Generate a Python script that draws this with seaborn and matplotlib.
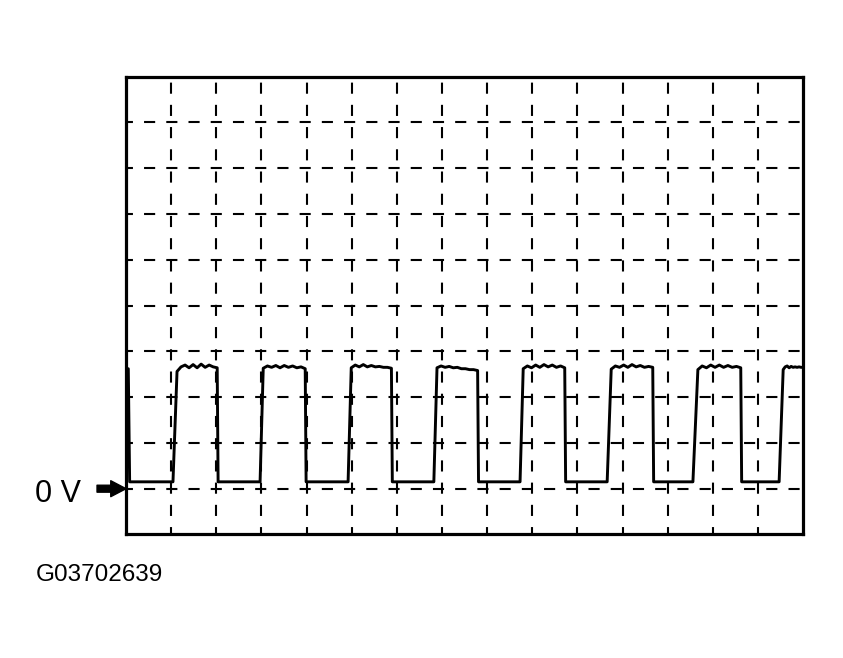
import numpy as np
import pandas as pd
import matplotlib
matplotlib.use("Agg")
import matplotlib.pyplot as plt
import seaborn as sns

# Scope trace in screen divisions (15 x 10 graticule)
# x: divisions from left edge, y: divisions above the 0 V line
low_level = 0.15
rise_start = [1.04, 2.97, 4.92, 6.82, 8.73, 10.66, 12.56, 14.47]
rise_end = [1.13, 3.04, 4.99, 6.89, 8.80, 10.75, 12.67, 14.56]
fall_at = [2.02, 3.97, 5.88, 7.79, 9.72, 11.67, 13.62, 15.00]
# ripple on the top of each pulse (11 samples across the top)
pulse_tops = [
    [2.56, 2.66, 2.70, 2.64, 2.71, 2.64, 2.72, 2.65, 2.70, 2.66, 2.64],
    [2.63, 2.68, 2.65, 2.69, 2.64, 2.69, 2.65, 2.68, 2.64, 2.66, 2.62],
    [2.64, 2.70, 2.66, 2.71, 2.66, 2.69, 2.66, 2.67, 2.65, 2.65, 2.63],
    [2.64, 2.68, 2.65, 2.67, 2.64, 2.65, 2.62, 2.62, 2.60, 2.60, 2.58],
    [2.62, 2.68, 2.64, 2.70, 2.65, 2.71, 2.66, 2.70, 2.65, 2.68, 2.64],
    [2.61, 2.68, 2.65, 2.70, 2.65, 2.71, 2.66, 2.69, 2.65, 2.67, 2.65],
    [2.60, 2.68, 2.64, 2.70, 2.65, 2.70, 2.65, 2.69, 2.65, 2.67, 2.64],
    [2.60, 2.66, 2.68, 2.64, 2.67, 2.65, 2.66, 2.65, 2.66, 2.65, 2.65],
]
start_x = [0.05, 0.08]
start_y = [2.62, low_level]

fig_label = "G03702639"
zero_label = "0 V"

# build the polyline
t = list(start_x)
v = list(start_y)
for rs, re, fa, tops in zip(rise_start, rise_end, fall_at, pulse_tops):
    t += [rs]
    v += [low_level]
    xs = np.linspace(re, fa, len(tops))
    t += list(xs)
    v += tops
    if fa < 15.0:
        t += [fa + 0.02]
        v += [low_level]
trace = pd.DataFrame({"div_x": t, "div_y": v})

sns.set_style("white")
plt.rcParams["font.family"] = ["Liberation Sans", "DejaVu Sans"]
plt.rcParams["lines.scale_dashes"] = False

fig = plt.figure(figsize=(8.43, 6.58), dpi=100)
ax = fig.add_axes([0.1495, 0.1877, 0.8031, 0.696])

sns.lineplot(data=trace, x="div_x", y="div_y", estimator=None, sort=False,
             color="black", linewidth=2.1, ax=ax, zorder=3)

ax.set_xlim(0, 15)
ax.set_ylim(-1, 9)
ax.set_xticks(np.arange(1, 15))
ax.set_yticks(np.arange(0, 9))
ax.tick_params(length=0, labelbottom=False, labelleft=False)
ax.set_xlabel("")
ax.set_ylabel("")
ax.grid(True, color="black", linewidth=1.5, linestyle=(3, (8, 8)))
for s in ax.spines.values():
    s.set_visible(True)
    s.set_color("black")
    s.set_linewidth(2.3)

# 0 V marker arrow
ax.annotate("", xy=(0, 0), xycoords="data", xytext=(-29, 0),
            textcoords="offset pixels", annotation_clip=False,
            arrowprops=dict(arrowstyle="simple,head_length=1.1,head_width=1.15,tail_width=0.5",
                            color="black", shrinkA=0, shrinkB=0, mutation_scale=10))
fig.text(35 / 843, 1 - 494 / 658, zero_label, fontsize=22, ha="left", va="center",
         color="black")
fig.text(36 / 843, 1 - 575 / 658, fig_label, fontsize=17.5, ha="left", va="center",
         color="black")

fig.savefig("out.png", dpi=100)
